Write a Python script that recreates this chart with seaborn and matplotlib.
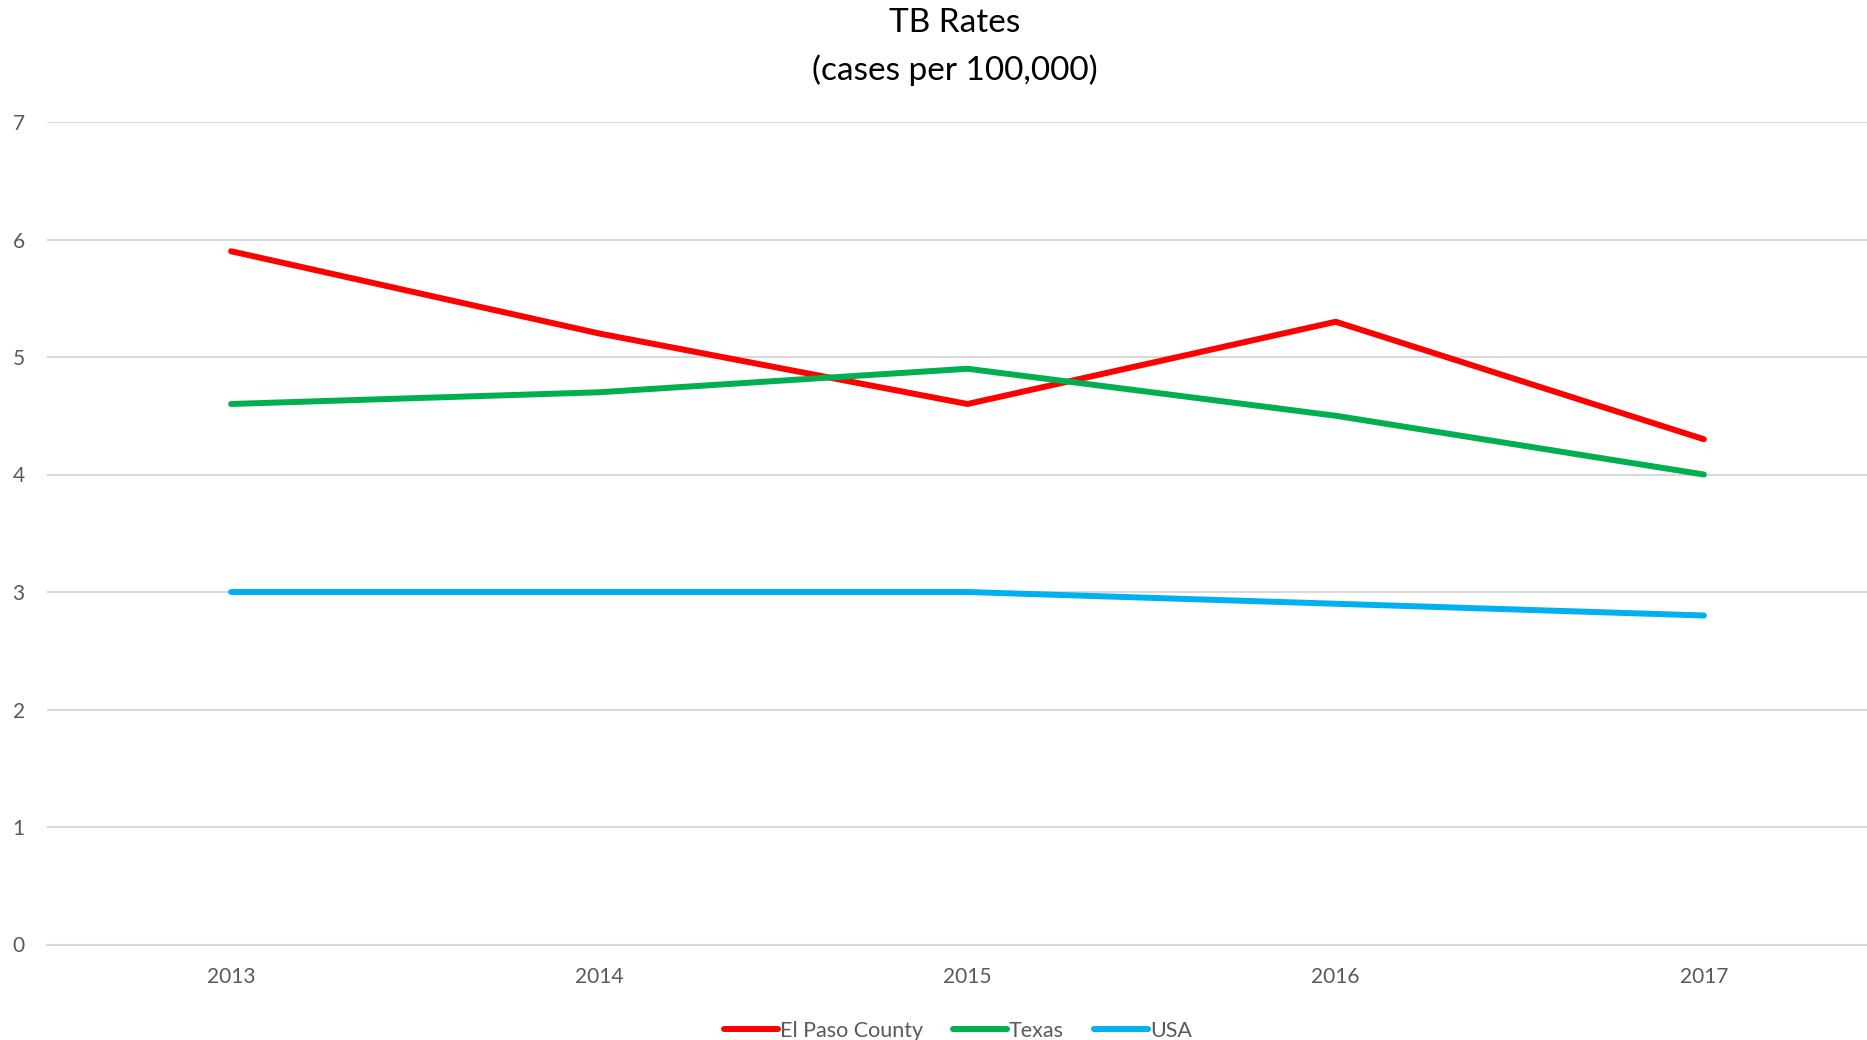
import matplotlib
matplotlib.use("Agg")
import matplotlib.pyplot as plt
import seaborn as sns
import pandas as pd

years = ["2013", "2014", "2015", "2016", "2017"]
el_paso = [5.9, 5.2, 4.6, 5.3, 4.3]
texas = [4.6, 4.7, 4.9, 4.5, 4.0]
usa = [3.0, 3.0, 3.0, 2.9, 2.8]
series_names = ["El Paso County", "Texas", "USA"]
colors = ["#FF0000", "#00B050", "#00B0F0"]
yticks = [0, 1, 2, 3, 4, 5, 6, 7]

df = pd.DataFrame({
    "Year": years * 3,
    "Rate": el_paso + texas + usa,
    "Series": [series_names[0]] * 5 + [series_names[1]] * 5 + [series_names[2]] * 5,
})

sns.set_theme(style="white")
plt.rcParams['font.family'] = ['Lato', 'DejaVu Sans']

fig = plt.figure(figsize=(18.67, 10.40), dpi=100)
ax = fig.add_axes([47 / 1867, 1 - 944.5 / 1040, (1888 - 47) / 1867, (944.5 - 122) / 1040])

sns.lineplot(data=df, x="Year", y="Rate", hue="Series", palette=colors,
             linewidth=4.3, ax=ax, sort=False, legend=True)

ax.set_xlim(-0.5, 4.5)
ax.set_ylim(0, 7)
ax.set_yticks(yticks)
ax.yaxis.grid(True, color="#D9D9D9", linewidth=1.5)
ax.xaxis.grid(False)
ax.set_axisbelow(True)
for s in ["top", "right", "left"]:
    ax.spines[s].set_visible(False)
ax.spines["bottom"].set_color("#D9D9D9")
ax.spines["bottom"].set_linewidth(1.5)
ax.tick_params(axis="both", length=0, labelsize=15, labelcolor="#595959")
ax.tick_params(axis="y", pad=16)
ax.tick_params(axis="x", pad=16)
ax.set_xlabel("")
ax.set_ylabel("")
for t in ax.get_lines():
    t.set_solid_capstyle("round")

fig.text(955 / 1867, 1 - 23 / 1040, "TB Rates", ha="center", va="center", fontsize=24, color="black")
fig.text(955 / 1867, 1 - 70 / 1040, "(cases per 100,000)", ha="center", va="center", fontsize=24, color="black")

handles, labels = ax.get_legend_handles_labels()
ax.get_legend().remove()
leg = fig.legend(handles, labels, loc="center", bbox_to_anchor=(958 / 1867, 1 - 1031 / 1040),
                 ncol=3, frameon=False, fontsize=15.5, handlelength=2.5, handletextpad=0.1,
                 columnspacing=1.4)
for t in leg.get_texts():
    t.set_color("#595959")
for l in leg.get_lines():
    l.set_linewidth(4.3)
    l.set_solid_capstyle("round")

fig.savefig("out.png", dpi=100)
